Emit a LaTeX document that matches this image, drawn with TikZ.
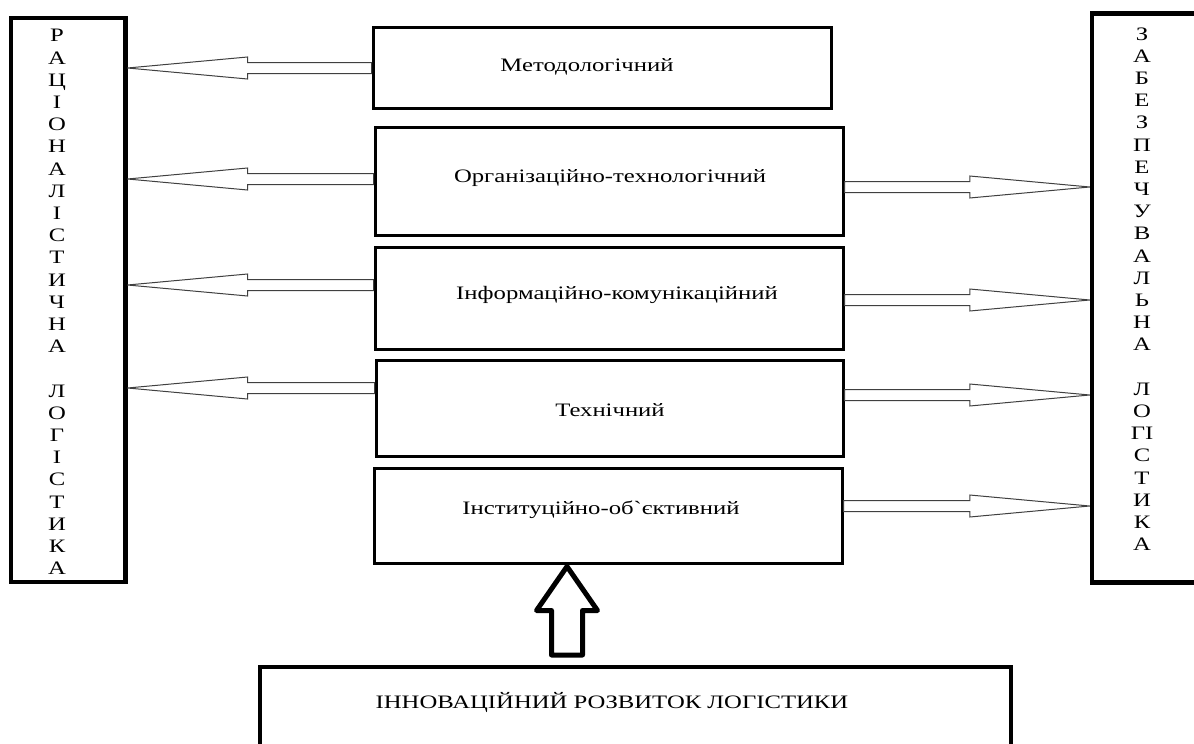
\documentclass[tikz,border=0pt]{standalone}
\usepackage{fontspec}
\setmainfont{Liberation Serif}[FakeStretch=1.3, Ligatures=TeXOff]
\usetikzlibrary{calc}
\tikzset{
  bar/.style={draw=black, line width=4.5pt, rectangle, inner sep=0pt},
  box/.style={draw=black, line width=3pt, rectangle, inner sep=0pt},
  bigbox/.style={draw=black, line width=4pt, rectangle, inner sep=0pt},
  txt/.style={font=\fontsize{19}{22.2}\selectfont, inner sep=0pt, text=black},
  vtxt/.style={font=\fontsize{19}{22.2}\selectfont, inner sep=0pt, align=center},
  blk/.style={draw=black!75, line width=1pt, fill=white, line join=miter},
  thickblk/.style={draw=black, line width=5pt, fill=white, line join=round},
}
\newcommand{\harrow}[2]{%
  \coordinate (hb) at ($(#2)!120pt!(#1)$);
  \draw[blk] ($(#1)+(0,5.5)$) -- ($(hb)+(0,5.5)$) -- ($(hb)+(0,11)$) -- (#2)
    -- ($(hb)+(0,-11)$) -- ($(hb)+(0,-5.5)$) -- ($(#1)+(0,-5.5)$) -- cycle;}
\begin{document}
\begin{tikzpicture}[x=1pt, y=-1pt]
\useasboundingbox (0,0) rectangle (1194,744);
\clip (0,0) rectangle (1194,744);
\fill[white] (0,0) rectangle (1194,744);
% side bars
\node[bar, minimum width=114.5pt, minimum height=564pt] (L) at (68,300) {};
\node[bar, minimum width=130pt, minimum height=569pt] (R) at (1157,298) {};
\node[vtxt] (Lt) at (57,302) {Р\\А\\Ц\\І\\О\\Н\\А\\Л\\І\\С\\Т\\И\\Ч\\Н\\А\\[22.2pt]Л\\О\\Г\\І\\С\\Т\\И\\К\\А};
\node[vtxt] (Rt) at (1142,289) {З\\А\\Б\\Е\\З\\П\\Е\\Ч\\У\\В\\А\\Л\\Ь\\Н\\А\\[22.2pt]Л\\О\\ГІ\\С\\Т\\И\\К\\А};
% central boxes
\node[box, minimum width=458pt, minimum height=81pt] (m1) at (602,67.5) {};
\node[box, minimum width=468pt, minimum height=108pt] (m2) at (609,181) {};
\node[box, minimum width=468pt, minimum height=102pt] (m3) at (609,298) {};
\node[box, minimum width=467pt, minimum height=96pt] (m4) at (609.5,408) {};
\node[box, minimum width=468pt, minimum height=95pt] (m5) at (608,515.5) {};
\node[txt] (t1) at (587,67) {Методологічний};
\node[txt] (t2) at (610,178) {Організаційно-технологічний};
\node[txt] (t3) at (617,295) {Інформаційно-комунікаційний};
\node[txt] (t4) at (610,410) {Технічний};
\node[txt] (t5) at (601,510) {Інституційно-об`єктивний};
% bottom box
\node[bigbox, minimum width=751pt, minimum height=160pt] (B) at (635.5,747) {};
\node[txt] (bt) at (612,702) {ІННОВАЦІЙНИЙ РОЗВИТОК ЛОГІСТИКИ};
% left arrows
\harrow{m1.west |- 0,68}{L.east |- 0,68}
\harrow{m2.west |- 0,179}{L.east |- 0,179}
\harrow{m3.west |- 0,285}{L.east |- 0,285}
\harrow{m4.west |- 0,388}{L.east |- 0,388}
% right arrows
\harrow{m2.east |- 0,187}{R.west |- 0,187}
\harrow{m3.east |- 0,300}{R.west |- 0,300}
\harrow{m4.east |- 0,395}{R.west |- 0,395}
\harrow{m5.east |- 0,506}{R.west |- 0,506}
% up arrow
\coordinate (ut) at (m5.south -| 567,0);
\coordinate (ub) at (B.north -| 567,0);
\draw[thickblk] ($(ub)+(-15.5,-10)$) -- ($(ut)+(-15.5,46)$) -- ($(ut)+(-30.5,46)$) -- ($(ut)+(0,2)$)
  -- ($(ut)+(30.5,46)$) -- ($(ut)+(15.5,46)$) -- ($(ub)+(15.5,-10)$) -- cycle;
\end{tikzpicture}
\end{document}
